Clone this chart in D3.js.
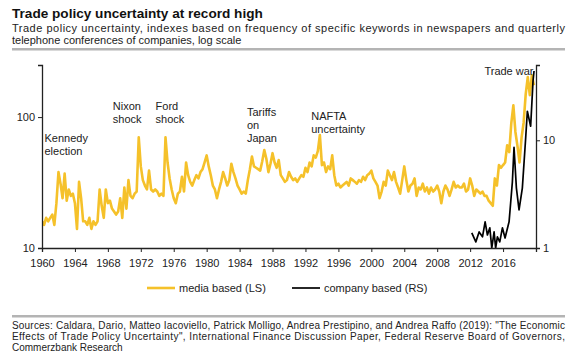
<!DOCTYPE html>
<html><head><meta charset="utf-8">
<script src="https://cdn.jsdelivr.net/npm/d3@7"></script>
<style>
html,body{margin:0;padding:0;background:#fff;}
svg{display:block;font-family:"Liberation Sans",Arial,sans-serif;}
</style></head>
<body>
<svg id="chart" width="580" height="358"></svg>
<script>
// ---- data ----
const mediaStartYear = 1960; // quarterly, media based index (left scale)
const mediaValues = [
16,15,17,16, 17,18,15,22, 38,31,24,37, 23,28,25,26, 22,14,32,24,
16,16,15,17, 14,16,15,16, 28,21,17,28, 22,23,20,19, 18,19,24,17,
29,20,33,25, 24,26,27,70, 42,33,30,28, 39,28,27,28, 27,25,26,25,
70,45,34,28, 24,22,26,27, 35,27,45,36, 32,30,33,36, 34,38,40,45,
51,42,36,30, 28,24,28,32, 38,34,30,33, 44,38,34,30, 28,26,27,26,
33,40,50,42, 41,40,39,46, 56,48,38,44, 53,45,41,47, 36,34,32,33,
38,35,33,34, 32,34,36,35, 41,38,45,42, 51,49,55,73, 43,45,38,42,
40,51,36,30, 31,29,30,31, 32,30,34,33, 32,31,33,32, 35,33,36,37,
39,34,32,30, 24,27,32,30, 39,36,33,38, 32,29,26,33, 42,33,27,30,
31,34,25,29, 28,31,27,29, 26,29,27,28, 30,27,22,27, 30,28,25,28,
32,29,30,29, 29,31,27,28, 34,30,25,28, 27,26,27,25, 25,23,22,21,
34,30,43,41, 43,45,61,54, 90,123,77,60, 45,70,91,150, 202,147,209,175
];
const companyYears = [2012.2,2012.69,2013.09,2013.5,2013.82,2014.1,2014.39,2014.63,2014.91,2015.1,2015.31,2015.6,2015.92,2016.24,2016.73,2017.13,2017.33,2017.62,2017.94,2018.34,2018.75,2018.95,2019.35,2019.64,2019.76];
const companyValues = [1.38,1.14,1.41,1.27,1.75,1.32,1.54,1.0,1.41,1.0,1.27,1.14,1.54,1.24,1.75,4.1,8.6,3.6,2.26,3.6,10.6,18.6,13.5,35.6,44];
const xTicks = [1960,1964,1968,1972,1976,1980,1984,1988,1992,1996,2000,2004,2008,2012,2016];
const leftTicks = [10,100];
const rightTicks = [1,10];
const annotations = [
  {lines:["Kennedy","election"], year:1960.3, v:64},
  {lines:["Nixon","shock"], year:1968.6, v:114},
  {lines:["Ford","shock"], year:1973.8, v:114},
  {lines:["Tariffs","on","Japan"], year:1984.9, v:102},
  {lines:["NAFTA","uncertainty"], year:1992.7, v:95}
];
const title = "Trade policy uncertainty at record high";
const subtitle = ["Trade policy uncertainty, indexes based on frequency of specific keywords in newspapers and quarterly",
                  "telephone conferences of companies, log scale"];
const sources = ["Sources: Caldara, Dario, Matteo Iacoviello, Patrick Molligo, Andrea Prestipino, and Andrea Raffo (2019): \"The Economic",
                 "Effects of Trade Policy Uncertainty\", International Finance Discussion Paper, Federal Reserve Board of Governors,",
                 "Commerzbank Research"];

// ---- drawing ----
const YEL = "#f5c12a";
const svg = d3.select("#chart");
const L = 42, R = 536, T = 65, B = 248;
const x = d3.scaleLinear().domain([1960, 2020]).range([L, R]);
const yL = d3.scaleLog().domain([10, 250]).range([B, T]);
const yR = d3.scaleLog().domain([1, 50]).range([B, T]);

svg.append("text").attr("x", 12).attr("y", 18).attr("font-size", 13.6).attr("font-weight", "bold").attr("fill", "#111").text(title);
subtitle.forEach((s, i) => {
  const t = svg.append("text").attr("x", 12).attr("y", 32 + i * 12).attr("font-size", 11).attr("fill", "#222").text(s);
  if (i === 0) t.attr("textLength", 553).attr("lengthAdjust", "spacing");
});
svg.append("rect").attr("x", 12).attr("y", 48).attr("width", 553).attr("height", 2.5).attr("fill", "#b4b4b4");

const media = mediaValues.map((v, i) => ({t: mediaStartYear + i / 4, v}));
const company = companyYears.map((t, i) => ({t, v: companyValues[i]}));

svg.append("defs").append("clipPath").attr("id", "clip").append("rect")
  .attr("x", L).attr("y", T - 5).attr("width", R - L + 3).attr("height", B - T + 5);

svg.append("path").datum(media).attr("clip-path", "url(#clip)")
  .attr("fill", "none").attr("stroke", YEL).attr("stroke-width", 2.6).attr("stroke-linejoin", "round")
  .attr("d", d3.line().x(d => x(d.t)).y(d => yL(d.v)));
svg.append("path").datum(company).attr("clip-path", "url(#clip)")
  .attr("fill", "none").attr("stroke", "#000").attr("stroke-width", 1.7).attr("stroke-linejoin", "round")
  .attr("d", d3.line().x(d => x(d.t)).y(d => yR(Math.max(1, d.v))));

// axes
const ax = svg.append("g").attr("transform", `translate(0,${B})`)
  .call(d3.axisBottom(x).tickValues(xTicks).tickFormat(d3.format("d")).tickSizeOuter(0).tickSize(4));
const al = svg.append("g").attr("transform", `translate(${L},0)`)
  .call(d3.axisLeft(yL).tickValues(leftTicks).tickFormat(d3.format("d")).tickSizeOuter(0).tickSize(4));
const ar = svg.append("g").attr("transform", `translate(${R},0)`)
  .call(d3.axisRight(yR).tickValues(rightTicks).tickFormat(d3.format("d")).tickSizeOuter(0).tickSize(4));
[ax, al, ar].forEach(g => {
  g.select(".domain").attr("stroke", "#222").attr("stroke-width", 1.3);
  g.selectAll(".tick line").attr("stroke", "#222");
  g.selectAll("text").attr("font-size", 11).attr("fill", "#222").attr("font-family", "Liberation Sans, Arial, sans-serif");
});
ax.selectAll("text").attr("dy", "1.05em");

// annotations
annotations.forEach(a => {
  const t = svg.append("text").attr("font-size", 11).attr("fill", "#222");
  a.lines.forEach((ln, i) => t.append("tspan").attr("x", x(a.year)).attr("y", yL(a.v) + i * 13).text(ln));
});
svg.append("text").attr("x", x(2019.7)).attr("y", yL(210)).attr("font-size", 11).attr("fill", "#222")
  .attr("text-anchor", "end").text("Trade war");

// legend
const lg = svg.append("g").attr("transform", "translate(0,288)");
lg.append("line").attr("x1", 147).attr("x2", 175).attr("y1", 0).attr("y2", 0).attr("stroke", YEL).attr("stroke-width", 2.6);
lg.append("text").attr("x", 179).attr("y", 4).attr("font-size", 11).attr("fill", "#222").text("media based (LS)");
lg.append("line").attr("x1", 292).attr("x2", 320).attr("y1", 0).attr("y2", 0).attr("stroke", "#000").attr("stroke-width", 1.7);
lg.append("text").attr("x", 324).attr("y", 4).attr("font-size", 11).attr("fill", "#222").text("company based (RS)");

svg.append("rect").attr("x", 12).attr("y", 315).attr("width", 553).attr("height", 2.5).attr("fill", "#b4b4b4");
sources.forEach((s, i) => {
  const t = svg.append("text").attr("x", 12).attr("y", 329 + i * 11).attr("font-size", 10).attr("fill", "#222").text(s);
  if (i < 2) t.attr("textLength", 553).attr("lengthAdjust", "spacing");
});
</script>
</body></html>
